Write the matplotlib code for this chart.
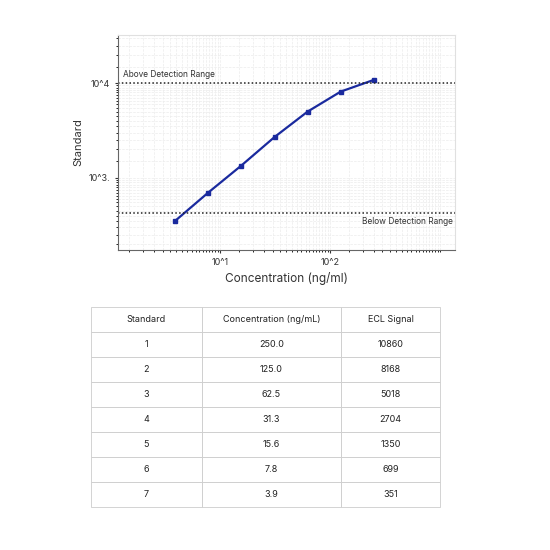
import matplotlib
matplotlib.use("Agg")
import matplotlib.pyplot as plt
from matplotlib.ticker import FixedLocator, LogLocator, NullFormatter

plt.rcParams["font.family"] = ["Inter", "DejaVu Sans"]

standards = ["1", "2", "3", "4", "5", "6", "7"]
concentration = [250.0, 125.0, 62.5, 31.3, 15.6, 7.8, 3.9]
ecl_signal = [10860, 8168, 5018, 2704, 1350, 699, 351]
upper_limit = 10000
lower_limit = 430

fig = plt.figure(figsize=(5.5, 5.5), dpi=100)
ax = fig.add_axes([118 / 550, 300 / 550, 337 / 550, 215 / 550])

ax.plot(concentration, ecl_signal, color="#1a2a9e", lw=1.6, marker="s", ms=3.2)
ax.set_xscale("log")
ax.set_yscale("log")
ax.set_xlim(1.18, 1370)
ax.set_ylim(173, 32400)

ax.axhline(upper_limit, color="#222222", ls=(0, (1, 1.5)), lw=1.1)
ax.axhline(lower_limit, color="#222222", ls=(0, (1, 1.5)), lw=1.1)
ax.text(1.3, upper_limit * 1.12, "Above Detection Range", fontsize=6, color="#333333", va="bottom")
ax.text(1300, lower_limit * 0.9, "Below Detection Range", fontsize=6, color="#333333", va="top", ha="right")

ax.xaxis.set_major_locator(FixedLocator([10, 100]))
ax.set_xticklabels(["10^1", "10^2"])
ax.yaxis.set_major_locator(FixedLocator([1000, 10000]))
ax.set_yticklabels(["10^3.", "10^4"])
ax.xaxis.set_minor_locator(LogLocator(subs=[i / 2 for i in range(2, 20)], numticks=50))
ax.yaxis.set_minor_locator(LogLocator(subs=[i / 2 for i in range(2, 20)], numticks=50))
ax.xaxis.set_minor_formatter(NullFormatter())
ax.yaxis.set_minor_formatter(NullFormatter())
ax.tick_params(labelsize=6.5, colors="#333333", length=2)
ax.tick_params(which="minor", length=1.5)
ax.grid(True, which="both", color="#ececec", lw=0.5, ls="--")
for s in ["top", "right"]:
    ax.spines[s].set_color("#e0e0e0")
for s in ["left", "bottom"]:
    ax.spines[s].set_color("#666666")
ax.set_xlabel("Concentration (ng/ml)", fontsize=8.5, color="#333333")
ax.set_ylabel("Standard", fontsize=8, color="#333333")

# table
tax = fig.add_axes([91 / 550, 43 / 550, 349 / 550, 200 / 550])
tax.axis("off")
cells = [[s, f"{c:.1f}", str(v)] for s, c, v in zip(standards, concentration, ecl_signal)]
tbl = tax.table(cellText=cells, colLabels=["Standard", "Concentration (ng/mL)", "ECL Signal"],
                cellLoc="center", colWidths=[111 / 349, 139 / 349, 99 / 349], bbox=[0, 0, 1, 1])
tbl.auto_set_font_size(False)
tbl.set_fontsize(6.5)
for cell in tbl.get_celld().values():
    cell.set_edgecolor("#cccccc")
    cell.set_linewidth(0.6)
    cell.get_text().set_color("#222222")

fig.savefig("out.png", dpi=100)
